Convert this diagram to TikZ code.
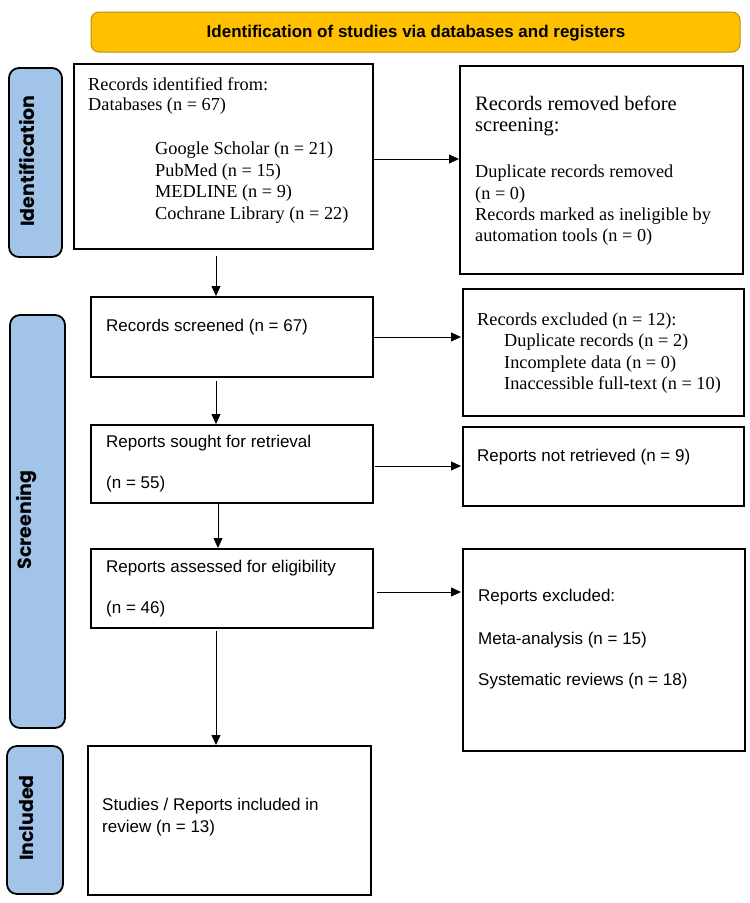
\documentclass[tikz,border=0pt]{standalone}
\usepackage{fontspec}
\setmainfont{Liberation Serif}
\newfontfamily\sansn{Liberation Sans}
\newfontfamily\labf{Poppins}
\usetikzlibrary{arrows.meta}
\definecolor{hdrfill}{HTML}{FFC000}
\definecolor{hdrline}{HTML}{BF9000}
\definecolor{labfill}{HTML}{A2C4E9}
\begin{document}
\begin{tikzpicture}[x=1pt,y=-1pt,
  box/.style={draw=black,line width=1.6pt},
  sidelab/.style={draw=black,line width=1.8pt,fill=labfill,rounded corners=10pt},
  arr/.style={-{Triangle[length=10pt,width=9pt]},line width=0.8pt},
  txt/.style={anchor=west,inner sep=0pt},
  sf/.style={font=\sansn\fontsize{17}{17}\selectfont},
  rm/.style={font=\rmfamily\fontsize{18.3}{18.3}\selectfont},
  labtxt/.style={rotate=90,inner sep=0pt,font=\labf\bfseries\fontsize{19}{19}\selectfont}
]
\useasboundingbox (0,0) rectangle (750,903);
% header
\draw[fill=hdrfill,draw=hdrline,line width=1pt,rounded corners=8pt] (91,12) rectangle (740,52);
\node[inner sep=0pt,font=\sansn\bfseries\fontsize{17}{17}\selectfont] (hdr) at (416,33) {Identification of studies via databases and registers};
% side labels
\draw[sidelab] (9,68) rectangle (62,257);
\node[labtxt] (lid) at (27,161) {Identification};
\draw[sidelab] (10,315) rectangle (65,728);
\node[labtxt] (lsc) at (27,520) {Screening};
\draw[sidelab] (7,746) rectangle (63,894);
\node[labtxt] (lin) at (27,818) {Included};
% boxes
\draw[box] (74,64) rectangle (373,249);
\draw[box] (460,66) rectangle (743,274);
\draw[box] (91,297) rectangle (373,377);
\draw[box] (463,289) rectangle (744,416);
\draw[box] (91,425) rectangle (373,503);
\draw[box] (463,427) rectangle (744,506);
\draw[box] (91,549) rectangle (373,628);
\draw[box] (463,549) rectangle (745,751);
\draw[box] (88,746) rectangle (371,895);
% texts
\begin{scope}[every node/.style={txt}]
\node[rm] (t1a) at (88,84) {Records identified from:};
\node[rm] (t1b) at (88,106) {Databases (n = 67)};
\node[rm] (t1c) at (155,150) {Google Scholar (n = 21)};
\node[rm] (t1d) at (155,172) {PubMed (n = 15)};
\node[rm] (t1e) at (155,193) {MEDLINE (n = 9)};
\node[rm] (t1f) at (155,215) {Cochrane Library (n = 22)};
\node[font=\rmfamily\fontsize{20.5}{20.5}\selectfont] (t2a) at (475,103) {Records removed before};
\node[font=\rmfamily\fontsize{20.5}{20.5}\selectfont] (t2b) at (475,127) {screening:};
\node[rm] (t2c) at (475,173) {Duplicate records removed};
\node[rm] (t2d) at (475,195) {(n = 0)};
\node[rm] (t2e) at (475,216) {Records marked as ineligible by};
\node[rm] (t2f) at (475,237) {automation tools (n = 0)};
\node[sf] (t3) at (106,327) {Records screened (n = 67)};
\node[rm] (t4a) at (477,321) {Records excluded (n = 12):};
\node[rm] (t4b) at (504,342) {Duplicate records (n = 2)};
\node[rm] (t4c) at (504,364) {Incomplete data (n = 0)};
\node[rm] (t4d) at (504,385) {Inaccessible full-text (n = 10)};
\node[sf] (t5a) at (106,443) {Reports sought for retrieval};
\node[sf] (t5b) at (106,484) {(n = 55)};
\node[sf] (t6) at (477,457) {Reports not retrieved (n = 9)};
\node[sf] (t7a) at (106,568) {Reports assessed for eligibility};
\node[sf] (t7b) at (106,609) {(n = 46)};
\node[sf] (t8a) at (478,597) {Reports excluded:};
\node[sf] (t8b) at (478,640) {Meta-analysis (n = 15)};
\node[sf] (t8c) at (478,681) {Systematic reviews (n = 18)};
\node[sf] (t9a) at (102,806) {Studies / Reports included in};
\node[sf] (t9b) at (102,828) {review (n = 13)};
\end{scope}
% connector anchors
\coordinate (a1s) at (373,159); \coordinate (a1e) at (459,159);
\coordinate (d1s) at (216,256); \coordinate (d1e) at (216,296);
\coordinate (a2s) at (373,337); \coordinate (a2e) at (461,337);
\coordinate (d2s) at (216,381); \coordinate (d2e) at (216,424);
\coordinate (a3s) at (375,466); \coordinate (a3e) at (461,466);
\coordinate (d3s) at (218,504); \coordinate (d3e) at (218,548);
\coordinate (a4s) at (377,592); \coordinate (a4e) at (461,592);
\coordinate (d4s) at (216,631); \coordinate (d4e) at (216,745);
\draw[arr] (a1s) -- (a1e);
\draw[arr] (d1s) -- (d1e);
\draw[arr] (a2s) -- (a2e);
\draw[arr] (d2s) -- (d2e);
\draw[arr] (a3s) -- (a3e);
\draw[arr] (d3s) -- (d3e);
\draw[arr] (a4s) -- (a4e);
\draw[arr] (d4s) -- (d4e);
\end{tikzpicture}
\end{document}
